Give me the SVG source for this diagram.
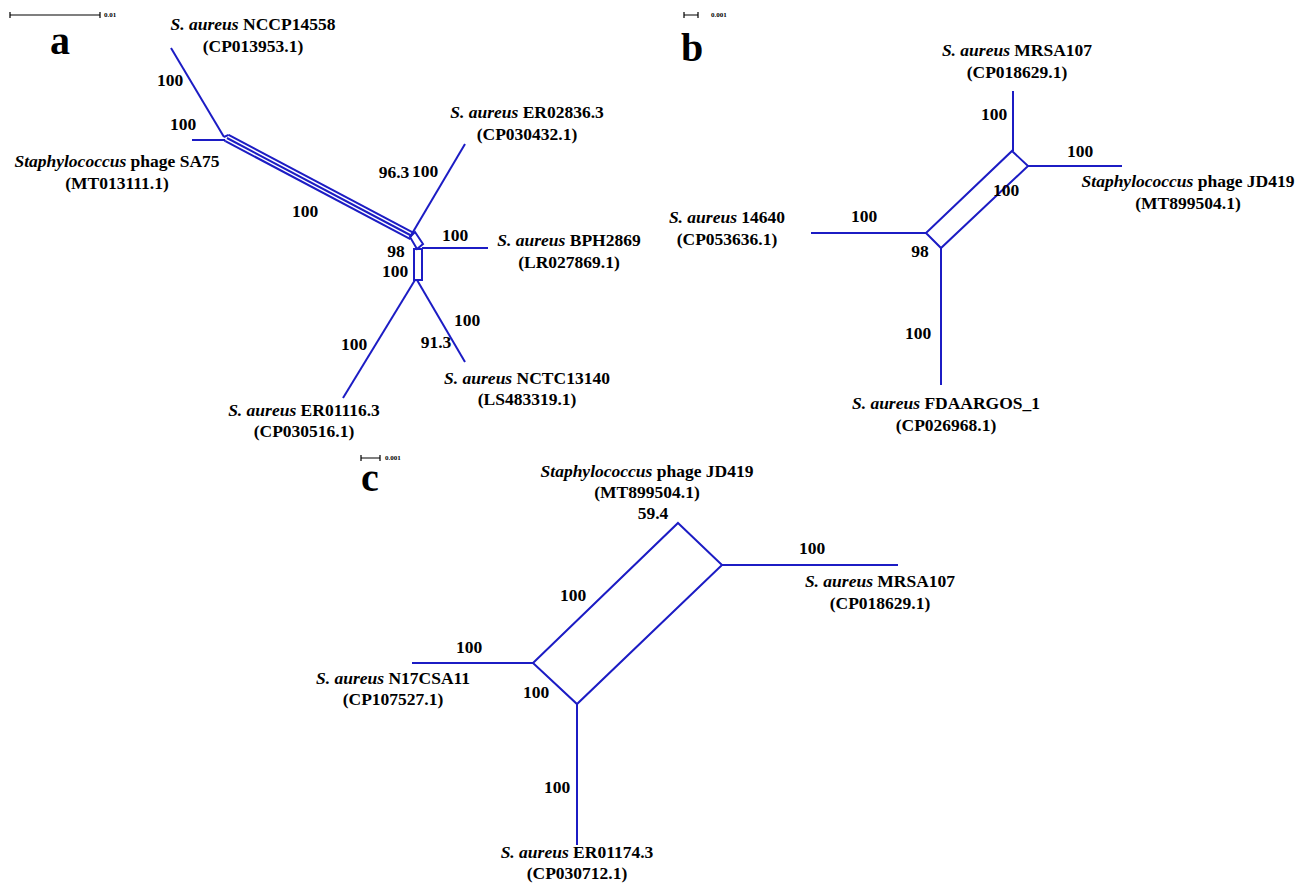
<svg xmlns="http://www.w3.org/2000/svg" width="1306" height="883" viewBox="0 0 1306 883">
<style>
.t,.n,.p,.s{font-family:"Liberation Serif",serif;font-weight:700;fill:#000}
.t{font-size:17.5px;text-anchor:middle}
.n{font-size:17.5px;text-anchor:middle}
.i{font-style:italic}
.p{font-size:40px}
.s{font-size:7px}
.e{fill:none;stroke:#1c1cc4;stroke-width:2;stroke-linejoin:miter}
.sb{fill:none;stroke:#000;stroke-width:1.2}
</style>
<rect width="1306" height="883" fill="#fff"/>

<!-- scale bars and panel letters -->
<g id="scale-a">
<path class="sb" d="M10,15H100M10,12V18M100,12V18"/>
<text class="s" x="104" y="17">0.01</text>
</g>
<g id="scale-b">
<path class="sb" d="M684,15H698M684,12V18M698,12V18"/>
<text class="s" x="711" y="17">0.001</text>
</g>
<g id="scale-c">
<path class="sb" d="M361,458H380M361,455V461M380,455V461"/>
<text class="s" x="385" y="460">0.001</text>
</g>
<text class="p" x="50" y="54">a</text>
<text class="p" x="681" y="61">b</text>
<text class="p" x="361" y="491">c</text>

<!-- connectors / network edges -->
<g id="edges">
<!-- panel a -->
<path class="e" d="M171,48L224,137"/>
<path class="e" d="M192,140H225"/>
<path class="e" d="M228.6,134.9L413.6,232.9"/>
<path class="e" d="M227,138L412,236"/>
<path class="e" d="M225.4,141.1L410.4,239.1"/>
<path class="e" d="M224,137L228.6,134.9M224,140L225.4,141.1"/>
<path class="e" d="M465,144L410,237"/>
<path class="e" d="M410,237L415,232L423,244L417,249Z"/>
<path class="e" d="M414,249H422V280H414Z"/>
<path class="e" d="M422,248H488"/>
<path class="e" d="M415,280L343,398"/>
<path class="e" d="M417,280L465,362"/>
<!-- panel b -->
<path class="e" d="M1013,91V151"/>
<path class="e" d="M1012,151L1028,166L941,248L926,233Z"/>
<path class="e" d="M1028,166H1122"/>
<path class="e" d="M811,233H926"/>
<path class="e" d="M941,248V385"/>
<!-- panel c -->
<path class="e" d="M678,523L722,565L577,704L533,663Z"/>
<path class="e" d="M722,565H898"/>
<path class="e" d="M412,663H533"/>
<path class="e" d="M577,704V845"/>
</g>

<!-- panel a nodes -->
<g id="a-NCCP14558">
<text class="t" x="253" y="30"><tspan class="i">S. aureus</tspan> NCCP14558</text>
<text class="t" x="253" y="52">(CP013953.1)</text>
</g>
<g id="a-SA75">
<text class="t" x="117" y="167"><tspan class="i">Staphylococcus</tspan> phage SA75</text>
<text class="t" x="117" y="189">(MT013111.1)</text>
</g>
<g id="a-ER02836">
<text class="t" x="527" y="118"><tspan class="i">S. aureus</tspan> ER02836.3</text>
<text class="t" x="527" y="140">(CP030432.1)</text>
</g>
<g id="a-BPH2869">
<text class="t" x="569" y="246"><tspan class="i">S. aureus</tspan> BPH2869</text>
<text class="t" x="569" y="268">(LR027869.1)</text>
</g>
<g id="a-NCTC13140">
<text class="t" x="527" y="384"><tspan class="i">S. aureus</tspan> NCTC13140</text>
<text class="t" x="527" y="405">(LS483319.1)</text>
</g>
<g id="a-ER01116">
<text class="t" x="304" y="416"><tspan class="i">S. aureus</tspan> ER01116.3</text>
<text class="t" x="304" y="437">(CP030516.1)</text>
</g>
<g id="a-labels">
<text class="n" x="170" y="86">100</text>
<text class="n" x="183" y="130">100</text>
<text class="n" x="305" y="217">100</text>
<text class="n" x="394" y="178">96.3</text>
<text class="n" x="425" y="177">100</text>
<text class="n" x="455" y="241">100</text>
<text class="n" x="396" y="257">98</text>
<text class="n" x="395" y="277">100</text>
<text class="n" x="467" y="326">100</text>
<text class="n" x="436" y="348">91.3</text>
<text class="n" x="354" y="350">100</text>
</g>

<!-- panel b nodes -->
<g id="b-MRSA107">
<text class="t" x="1017" y="56"><tspan class="i">S. aureus</tspan> MRSA107</text>
<text class="t" x="1017" y="78">(CP018629.1)</text>
</g>
<g id="b-JD419">
<text class="t" x="1188" y="187"><tspan class="i">Staphylococcus</tspan> phage JD419</text>
<text class="t" x="1188" y="209">(MT899504.1)</text>
</g>
<g id="b-14640">
<text class="t" x="727" y="223"><tspan class="i">S. aureus</tspan> 14640</text>
<text class="t" x="727" y="245">(CP053636.1)</text>
</g>
<g id="b-FDAARGOS">
<text class="t" x="946" y="409"><tspan class="i">S. aureus</tspan> FDAARGOS_1</text>
<text class="t" x="946" y="431">(CP026968.1)</text>
</g>
<g id="b-labels">
<text class="n" x="994" y="120">100</text>
<text class="n" x="1080" y="157">100</text>
<text class="n" x="1006" y="196">100</text>
<text class="n" x="864" y="222">100</text>
<text class="n" x="920" y="257">98</text>
<text class="n" x="918" y="339">100</text>
</g>

<!-- panel c nodes -->
<g id="c-JD419">
<text class="t" x="647" y="477"><tspan class="i">Staphylococcus</tspan> phage JD419</text>
<text class="t" x="647" y="498">(MT899504.1)</text>
</g>
<g id="c-MRSA107">
<text class="t" x="880" y="587"><tspan class="i">S. aureus</tspan> MRSA107</text>
<text class="t" x="880" y="609">(CP018629.1)</text>
</g>
<g id="c-N17CSA11">
<text class="t" x="393" y="684"><tspan class="i">S. aureus</tspan> N17CSA11</text>
<text class="t" x="393" y="705">(CP107527.1)</text>
</g>
<g id="c-ER01174">
<text class="t" x="577" y="858"><tspan class="i">S. aureus</tspan> ER01174.3</text>
<text class="t" x="577" y="879">(CP030712.1)</text>
</g>
<g id="c-labels">
<text class="n" x="653" y="519">59.4</text>
<text class="n" x="812" y="554">100</text>
<text class="n" x="573" y="601">100</text>
<text class="n" x="469" y="653">100</text>
<text class="n" x="536" y="698">100</text>
<text class="n" x="557" y="793">100</text>
</g>
</svg>
